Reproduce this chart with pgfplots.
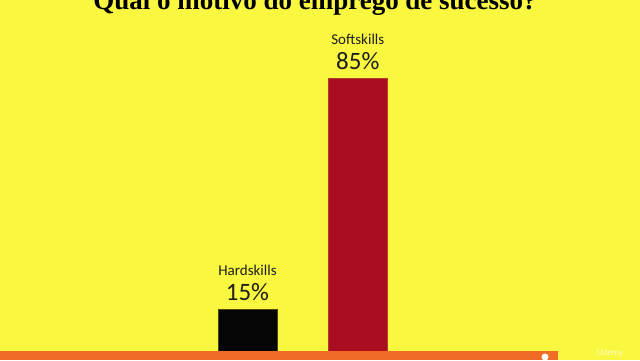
\documentclass[border=0pt]{standalone}
\usepackage{pgfplots}
\pgfplotsset{compat=1.18}
\usepackage{fontspec}
\setmainfont{Carlito}
\newfontfamily\titlefont{Liberation Serif}
\definecolor{bg}{HTML}{F9F740}
\definecolor{barred}{HTML}{A80E20}
\definecolor{barblack}{HTML}{050505}
\definecolor{band}{HTML}{EF6B26}
\definecolor{lbl}{HTML}{1E1E1E}
\begin{document}
\begin{tikzpicture}[x=1pt,y=1pt]
\fill[bg] (0,0) rectangle (640,360);
\begin{axis}[at={(0,0)}, anchor=south west, scale only axis,
  width=640pt, height=360pt,
  xmin=0, xmax=640, ymin=-0.45, ymax=108.6,
  hide axis, ybar, bar width=59, bar shift=0pt,
  every node near coord/.append style={align=center, anchor=south, text=lbl, inner sep=0pt, yshift=8pt},
]
\addplot[fill=barblack, draw=black!70!bg, line width=0.6pt,
  nodes near coords={{\fontsize{15}{15}\selectfont Hardskills}\\[7pt]{\fontsize{25}{25}\selectfont 15\%}}]
  coordinates {(247.5,15)};
\addplot[fill=barred, draw=barred!80!bg, line width=0.6pt,
  nodes near coords={{\fontsize{15}{15}\selectfont Softskills}\\[7pt]{\fontsize{25}{25}\selectfont 85\%}}]
  coordinates {(357.8,85)};
\fill[band] (0,-0.45) rectangle (558,2.27);
\end{axis}
\node[anchor=base, text=black, inner sep=0pt] at (315,351) {\titlefont\bfseries\fontsize{27}{27}\selectfont Qual o motivo do emprego de sucesso?};
\fill[white] (545,3) circle (3.5);
\node[anchor=base, text=white!70!bg, inner sep=0pt] at (610,5) {\fontsize{9}{9}\selectfont Udemy};
\pgfresetboundingbox
\path[use as bounding box] (0,0) rectangle (640,360);
\end{tikzpicture}
\end{document}
